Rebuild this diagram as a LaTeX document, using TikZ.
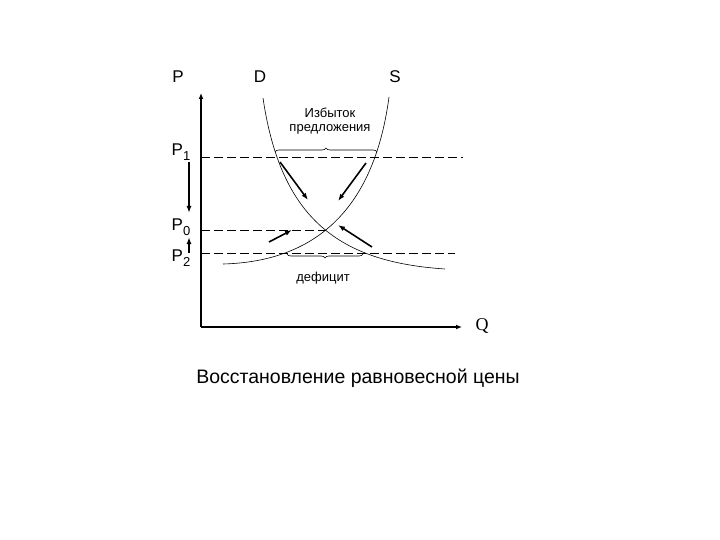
\documentclass[tikz,border=0pt]{standalone}
\usepackage{fontspec}
\setmainfont{Liberation Sans}
\newfontfamily\qfont{Liberation Serif}
\usetikzlibrary{positioning}
\usetikzlibrary{arrows.meta}
\usetikzlibrary{decorations.pathreplacing}
\newcommand{\pricelab}[1]{P\raisebox{-5pt}{\fontsize{13}{14}\selectfont #1}}

\begin{document}
\begin{tikzpicture}[x=1pt,y=-1pt,
		axis/.style={line width=1.6pt,-{Latex[length=6pt,width=5pt]}},
		pricelevel/.style={line width=0.7pt,dash pattern=on 9pt off 4pt},
		curve/.style={line width=0.6pt},
		move/.style={line width=1.6pt,-{Latex[length=7pt,width=5pt]}},
		gap/.style={decorate,decoration={brace,amplitude=4pt},line width=0.6pt},
		big/.style={font=\fontsize{17}{19}\selectfont},
		small/.style={font=\fontsize{13}{14}\selectfont},
		every node/.style={inner sep=1pt}
		]
		\useasboundingbox (0,0) rectangle (720,540);
		% axes
		\coordinate (O) at (201,327);
		\coordinate (ptop) at (201,93);
		\coordinate (qend) at (462,327);
		\draw[axis] (O) -- (ptop);
		\draw[axis] (O) -- (qend);
		\node[big] (P) at (178,77) {P};
		\node[font=\qfont\fontsize{18}{20}\selectfont] (Q) at (482,326) {Q};
		\node[big] (D) at (260,77) {D};
		\node[big] (S) at (395,77) {S};
		% price levels
		\coordinate (E) at (326,230);
		\coordinate (p1a) at (201,157);
		\coordinate (p1b) at (463,157);
		\coordinate (p0a) at (201,230);
		\coordinate (p2a) at (201,253);
		\coordinate (p2b) at (455,253);
		\draw[pricelevel] (p1a) -- (p1b);
		\draw[pricelevel] (p0a) -- (E);
		\draw[pricelevel] (p2a) -- (p2b);
		\node[big] (P1) at (181,152) {\pricelab{1}};
		\node[big] (P0) at (181,227) {\pricelab{0}};
		\node[big] (P2) at (181,258) {\pricelab{2}};
		% demand and supply
		\coordinate (d1) at (263,98);
		\coordinate (d2) at (445,269);
		\coordinate (s1) at (389,97);
		\coordinate (s2) at (223,264);
		\draw[curve] (d1) .. controls (281,220) and (340,262) .. (d2);
		\draw[curve] (s1) .. controls (372,225) and (300,262) .. (s2);
		% surplus and shortage
		\coordinate (b1) at (275,152);
		\coordinate (b2) at (377,152);
		\coordinate (b3) at (363,254);
		\coordinate (b4) at (287,254);
		\draw[gap] (b1) -- (b2);
		\draw[gap] (b3) -- (b4);
		\node[small,align=center] (surplus) at (330,121) {Избыток\\предложения};
		\node[small] (shortage) at (323,278) {дефицит};
		% adjustment
		\coordinate (a1) at (189,162);
		\coordinate (a2) at (189,213);
		\coordinate (a3) at (189,253);
		\coordinate (a4) at (189,237);
		\draw[move] (a1) -- (a2);
		\draw[move] (a3) -- (a4);
		\coordinate (m1) at (280,162);
		\coordinate (m2) at (308,200);
		\coordinate (m3) at (366,163);
		\coordinate (m4) at (338,201);
		\coordinate (m5) at (269,242);
		\coordinate (m6) at (292,230);
		\coordinate (m7) at (372,247);
		\coordinate (m8) at (338,225);
		\draw[move] (m1) -- (m2);
		\draw[move] (m3) -- (m4);
		\draw[move] (m5) -- (m6);
		\draw[move] (m7) -- (m8);
		\node[font=\fontsize{19.5}{21}\selectfont] (title) at (358,378) {Восстановление равновесной цены};
	\end{tikzpicture}
\end{document}
